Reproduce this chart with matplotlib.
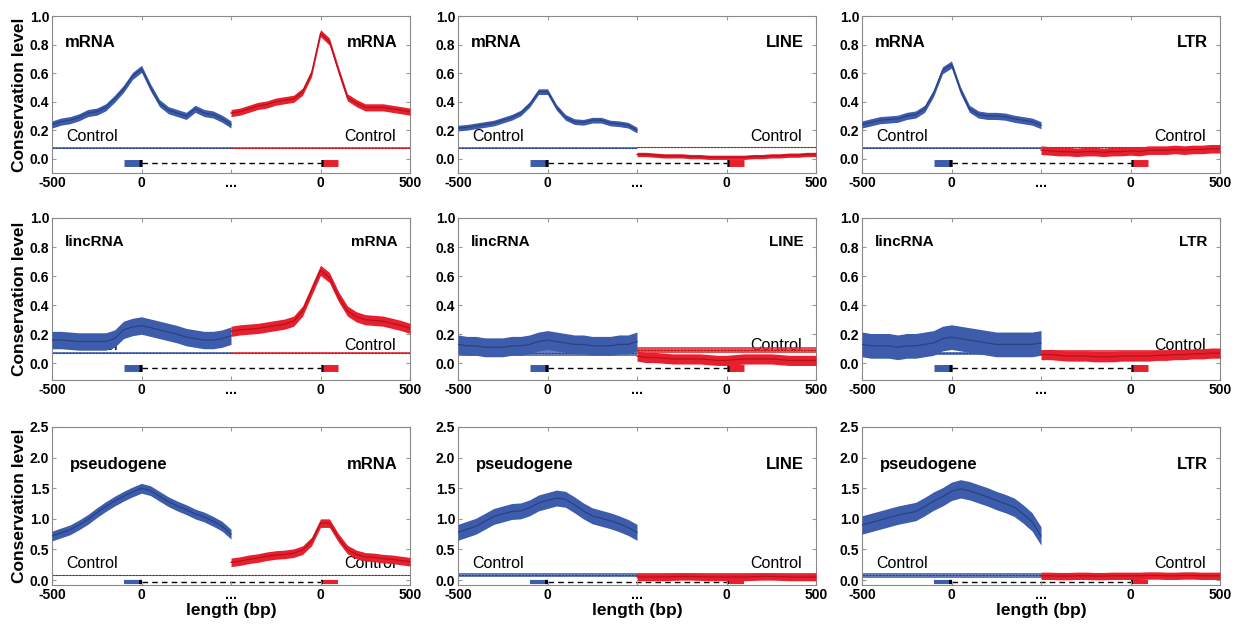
import numpy as np
import matplotlib.pyplot as plt
from matplotlib.ticker import FormatStrFormatter

plt.rcParams['font.family'] = ['Liberation Sans', 'DejaVu Sans']

# sampling positions (bp) used for both halves of every panel
bp = [-500, -450, -400, -350, -300, -250, -200, -150, -100, -50, 0,
      50, 100, 150, 200, 250, 300, 350, 400, 450, 500]

left_names = ['mRNA', 'lincRNA', 'pseudogene']
right_names = ['mRNA', 'LINE', 'LTR']

# blue (left feature) profiles: one list per panel, rows of panels
blue_row1 = [
    [0.24, 0.26, 0.27, 0.29, 0.32, 0.33, 0.36, 0.42, 0.49, 0.58, 0.63,
     0.50, 0.39, 0.34, 0.32, 0.30, 0.35, 0.32, 0.31, 0.28, 0.24],
    [0.215, 0.22, 0.23, 0.24, 0.25, 0.27, 0.29, 0.32, 0.38, 0.47, 0.47,
     0.36, 0.29, 0.26, 0.255, 0.27, 0.27, 0.25, 0.245, 0.235, 0.20],
    [0.24, 0.255, 0.27, 0.275, 0.28, 0.30, 0.31, 0.35, 0.46, 0.62, 0.66,
     0.48, 0.35, 0.31, 0.30, 0.30, 0.295, 0.28, 0.27, 0.26, 0.235],
]
blue_row2 = [
    [0.16, 0.16, 0.155, 0.15, 0.15, 0.15, 0.15, 0.17, 0.23, 0.25, 0.26,
     0.245, 0.23, 0.215, 0.20, 0.18, 0.17, 0.16, 0.16, 0.17, 0.19],
    [0.13, 0.12, 0.12, 0.11, 0.11, 0.11, 0.12, 0.12, 0.13, 0.15, 0.16,
     0.15, 0.14, 0.13, 0.13, 0.12, 0.12, 0.12, 0.13, 0.13, 0.15],
    [0.13, 0.12, 0.12, 0.12, 0.11, 0.12, 0.12, 0.13, 0.14, 0.17, 0.18,
     0.17, 0.16, 0.15, 0.14, 0.13, 0.13, 0.13, 0.13, 0.13, 0.14],
]
blue_row3 = [
    [0.72, 0.77, 0.82, 0.90, 0.99, 1.10, 1.20, 1.29, 1.37, 1.44, 1.50,
     1.46, 1.37, 1.28, 1.21, 1.15, 1.08, 1.03, 0.96, 0.88, 0.75],
    [0.78, 0.83, 0.88, 0.96, 1.04, 1.08, 1.12, 1.13, 1.18, 1.26, 1.30,
     1.34, 1.32, 1.23, 1.13, 1.05, 1.01, 0.97, 0.92, 0.86, 0.78],
    [0.90, 0.94, 0.98, 1.02, 1.06, 1.09, 1.12, 1.20, 1.29, 1.36, 1.45,
     1.49, 1.46, 1.41, 1.36, 1.30, 1.25, 1.19, 1.08, 0.95, 0.72],
]

# red (right feature) profiles
red_row1 = [
    [0.32, 0.33, 0.35, 0.37, 0.38, 0.40, 0.41, 0.42, 0.47, 0.60, 0.88,
     0.82, 0.62, 0.43, 0.39, 0.36, 0.36, 0.36, 0.35, 0.34, 0.33],
    [0.03, 0.03, 0.025, 0.02, 0.02, 0.02, 0.015, 0.015, 0.01, 0.01, 0.01,
     0.01, 0.01, 0.015, 0.015, 0.02, 0.02, 0.025, 0.025, 0.03, 0.03],
    [0.06, 0.055, 0.05, 0.05, 0.045, 0.05, 0.05, 0.045, 0.05, 0.05, 0.055,
     0.05, 0.06, 0.06, 0.06, 0.065, 0.06, 0.065, 0.065, 0.07, 0.07],
]
red_row2 = [
    [0.22, 0.23, 0.235, 0.24, 0.25, 0.26, 0.27, 0.29, 0.36, 0.50, 0.64,
     0.59, 0.46, 0.36, 0.32, 0.30, 0.295, 0.29, 0.275, 0.26, 0.24],
    [0.05, 0.04, 0.04, 0.035, 0.03, 0.03, 0.03, 0.03, 0.025, 0.02, 0.02,
     0.025, 0.03, 0.03, 0.03, 0.03, 0.025, 0.02, 0.02, 0.02, 0.02],
    [0.06, 0.06, 0.055, 0.05, 0.05, 0.05, 0.045, 0.045, 0.045, 0.05, 0.05,
     0.05, 0.05, 0.055, 0.055, 0.06, 0.06, 0.065, 0.065, 0.07, 0.07],
]
red_row3 = [
    [0.29, 0.31, 0.34, 0.36, 0.39, 0.41, 0.42, 0.44, 0.49, 0.63, 0.93,
     0.93, 0.69, 0.50, 0.42, 0.38, 0.37, 0.35, 0.34, 0.32, 0.30],
    [0.05, 0.05, 0.05, 0.05, 0.055, 0.06, 0.06, 0.055, 0.05, 0.05, 0.05,
     0.05, 0.05, 0.055, 0.06, 0.06, 0.055, 0.05, 0.05, 0.05, 0.05],
    [0.07, 0.07, 0.065, 0.065, 0.07, 0.07, 0.065, 0.065, 0.07, 0.07, 0.07,
     0.07, 0.075, 0.075, 0.07, 0.07, 0.075, 0.075, 0.07, 0.07, 0.07],
]

# half-width of the noisy band around each profile
blue_spread = [[0.025, 0.02, 0.025], [0.06, 0.065, 0.085], [0.08, 0.13, 0.15]]
red_spread = [[0.025, 0.015, 0.03], [0.035, 0.035, 0.035], [0.07, 0.06, 0.06]]

# control levels and their noise
ctrl_blue = [[0.075, 0.075, 0.075], [0.07, 0.07, 0.07], [0.08, 0.08, 0.08]]
ctrl_red = [[0.075, 0.08, 0.08], [0.07, 0.09, 0.08], [0.08, 0.08, 0.08]]
ctrl_spread = [[0.004, 0.004, 0.004], [0.005, 0.02, 0.01], [0.01, 0.035, 0.04]]

# gene model: feature boxes (bp) on each half
box_left = [-100, 0]
box_right = [0, 100]

blue_rows = [blue_row1, blue_row2, blue_row3]
red_rows = [red_row1, red_row2, red_row3]

BLUE, BLUE_D = '#3d5cab', '#2a4282'
RED, RED_D = '#e8202e', '#b5121c'

ylims = [(-0.1, 1.0), (-0.115, 1.0), (-0.08, 2.5)]
yticks = [np.arange(0, 1.01, 0.2), np.arange(0, 1.01, 0.2), np.arange(0, 2.51, 0.5)]
label_y = [0.83, 0.85, 0.76]
ctrl_text_y = [0.234, 0.21, 0.136]
box_lw = [5, 5, 3]

lefts = [52 / 1241, 458 / 1241, 862 / 1241]
tops = [16, 218, 427]
bottoms = [173, 380, 585]


def to_axis(vals, shift):
    return np.array(vals) / 2.0 + shift


fig = plt.figure(figsize=(12.41, 6.24), dpi=100)

for r in range(3):
    for c in range(3):
        ax = fig.add_axes([lefts[c], 1 - bottoms[r] / 624, 358 / 1241,
                           (bottoms[r] - tops[r]) / 624])

        xl = to_axis(bp, -250)
        xr = to_axis(bp, 250)

        # controls
        cb, cr, cs = ctrl_blue[r][c], ctrl_red[r][c], ctrl_spread[r][c]
        ax.fill_between(xl, cb - cs, cb + cs, color=BLUE, lw=0, alpha=0.8, zorder=2)
        ax.plot(xl, [cb] * len(bp), color=BLUE_D, lw=0.8, ls=(0, (2, 1)), zorder=2)
        ax.fill_between(xr, cr - cs, cr + cs, color=RED, lw=0, alpha=0.8, zorder=2)
        ax.plot(xr, [cr] * len(bp), color=RED_D, lw=0.8, ls=(0, (2, 1)), zorder=2)

        # profiles
        b = np.array(blue_rows[r][c])
        s = blue_spread[r][c]
        ax.fill_between(xl, b - s, b + s, color=BLUE, lw=0, zorder=3)
        ax.plot(xl, b, color=BLUE_D, lw=0.9, zorder=4)
        rd = np.array(red_rows[r][c])
        s = red_spread[r][c]
        ax.fill_between(xr, rd - s, rd + s, color=RED, lw=0, zorder=3)
        ax.plot(xr, rd, color=RED_D, lw=0.9, zorder=4)

        # gene model under the profiles
        gy = -0.03
        ax.plot(to_axis([box_left[1], box_right[0] + 1000], -250), [gy, gy],
                color='black', lw=1, ls=(0, (4, 3)), zorder=1)
        ax.plot(to_axis(box_left, -250), [gy, gy], color=BLUE, lw=box_lw[r],
                solid_capstyle='butt', zorder=1.5)
        ax.plot(to_axis([box_left[1] - 12, box_left[1]], -250), [gy, gy],
                color='black', lw=box_lw[r], solid_capstyle='butt', zorder=1.5)
        ax.plot(to_axis(box_right, 250), [gy, gy], color=RED, lw=box_lw[r],
                solid_capstyle='butt', zorder=1.5)
        ax.plot(to_axis([box_right[0], box_right[0] + 12], 250), [gy, gy],
                color='black', lw=box_lw[r], solid_capstyle='butt', zorder=1.5)

        # labels
        lx = 0.05 if r == 2 else 0.035
        ax.text(lx, label_y[r], left_names[r], transform=ax.transAxes,
                fontsize=11 if r == 1 else 12, fontweight='bold', va='center')
        ax.text(0.965, label_y[r], right_names[c], transform=ax.transAxes,
                fontsize=11 if r == 1 else 12, fontweight='bold', va='center', ha='right')
        ax.text(0.04, ctrl_text_y[r], 'Control', transform=ax.transAxes,
                fontsize=11.5, va='center', zorder=1)
        ax.text(0.96, ctrl_text_y[r], 'Control', transform=ax.transAxes,
                fontsize=11.5, va='center', ha='right', zorder=1)

        ax.set_xlim(-500, 500)
        ax.set_ylim(*ylims[r])
        ax.set_xticks([-500, -250, 0, 250, 500])
        ax.set_xticklabels(['-500', '0', '...', '0', '500'])
        ax.set_yticks(yticks[r])
        ax.yaxis.set_major_formatter(FormatStrFormatter('%.1f'))
        ax.tick_params(direction='in', top=True, right=True, length=3,
                       color='#999999', labelsize=10, pad=2)
        for lab in ax.get_xticklabels() + ax.get_yticklabels():
            lab.set_fontweight('bold')
        for sp in ax.spines.values():
            sp.set_color('#8a8a8a')
            sp.set_linewidth(0.8)

        if c == 0:
            ax.set_ylabel('Conservation level', fontsize=12.5, fontweight='bold', labelpad=2)
        if r == 2:
            ax.set_xlabel('length (bp)', fontsize=12.5, fontweight='bold', labelpad=1)

fig.savefig('out.png', dpi=100)
